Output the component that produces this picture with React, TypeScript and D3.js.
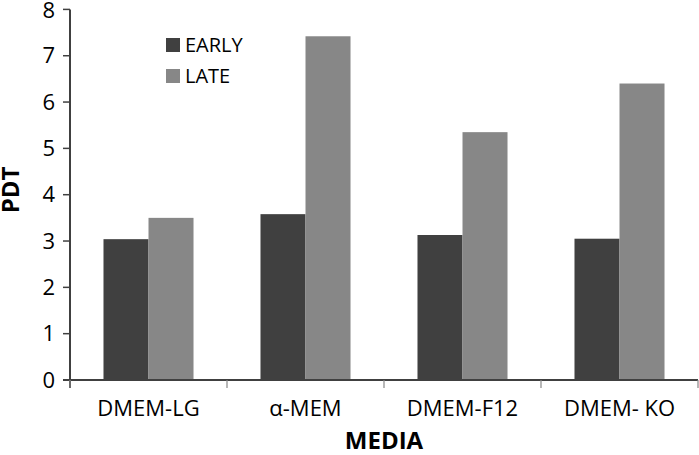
import React, { useEffect, useRef } from "react";
import * as d3 from "d3";

const categories = ["DMEM-LG", "α-MEM", "DMEM-F12", "DMEM- KO"];
const seriesNames = ["EARLY", "LATE"];
const earlyValues = [3.04, 3.58, 3.13, 3.05];
const lateValues = [3.5, 7.42, 5.35, 6.4];
const yTicks = [0, 1, 2, 3, 4, 5, 6, 7, 8];
const colors = ["#404040", "#878787"];

export default function App() {
  const ref = useRef<SVGSVGElement | null>(null);

  useEffect(() => {
    const svg = d3.select(ref.current);
    svg.selectAll("*").remove();
    const W = 699, H = 455;
    const left = 70, right = 698, top = 9.4, bottom = 380;
    const font = "'Open Sans', sans-serif";
    const axisColor = "#404040";

    const x = d3.scaleBand<string>().domain(categories).range([left, right]).paddingInner(0).paddingOuter(0);
    const x1 = d3.scaleBand<string>().domain(seriesNames).range([0, x.bandwidth()]).paddingOuter(0.744).paddingInner(0);
    const y = d3.scaleLinear().domain([0, 8]).range([bottom, top]);

    svg.append("rect").attr("width", W).attr("height", H).attr("fill", "#fff");

    const data = categories.map((c, i) => ({ c, vals: [earlyValues[i], lateValues[i]] }));
    const g = svg.append("g");
    data.forEach((d) => {
      d.vals.forEach((v, j) => {
        g.append("rect")
          .attr("x", (x(d.c) as number) + (x1(seriesNames[j]) as number))
          .attr("y", y(v))
          .attr("width", x1.bandwidth())
          .attr("height", y(0) - y(v))
          .attr("fill", colors[j]);
      });
    });

    // Y axis
    svg.append("line").attr("x1", left).attr("x2", left).attr("y1", top).attr("y2", bottom + 8)
      .attr("stroke", axisColor).attr("stroke-width", 2);
    yTicks.forEach((t) => {
      svg.append("line").attr("x1", left - 7).attr("x2", left).attr("y1", y(t)).attr("y2", y(t))
        .attr("stroke", axisColor).attr("stroke-width", 1.5);
      svg.append("text").attr("x", 55).attr("y", y(t) + (t === 8 ? 1 : 0)).attr("dy", "0.35em")
        .attr("text-anchor", "end").attr("font-family", font).attr("font-size", 22)
        .attr("fill", "#000").text(String(t));
    });

    // X axis
    svg.append("line").attr("x1", left - 7).attr("x2", right).attr("y1", bottom).attr("y2", bottom)
      .attr("stroke", axisColor).attr("stroke-width", 2);
    const edges = categories.map((c) => x(c) as number).concat([right]);
    edges.forEach((e) => {
      svg.append("line").attr("x1", e).attr("x2", e).attr("y1", bottom).attr("y2", bottom + 8)
        .attr("stroke", "#888").attr("stroke-width", 1.2);
    });
    categories.forEach((c) => {
      svg.append("text").attr("x", (x(c) as number) + x.bandwidth() / 2).attr("y", 416)
        .attr("text-anchor", "middle").attr("font-family", font).attr("font-size", 22)
        .attr("fill", "#000").text(c);
    });

    // Axis titles
    svg.append("text").attr("x", (left + right) / 2).attr("y", 449)
      .attr("text-anchor", "middle").attr("font-family", font).attr("font-size", 24)
      .attr("font-weight", "bold").attr("fill", "#000").text("MEDIA");
    svg.append("text").attr("transform", `translate(19,190) rotate(-90)`)
      .attr("text-anchor", "middle").attr("font-family", font).attr("font-size", 24)
      .attr("font-weight", "bold").attr("fill", "#000").text("PDT");

    // Legend
    seriesNames.forEach((s, i) => {
      const yy = 38 + i * 31;
      svg.append("rect").attr("x", 166).attr("y", yy).attr("width", 14).attr("height", 14).attr("fill", colors[i]);
      svg.append("text").attr("x", 185).attr("y", yy + 14).attr("font-family", font).attr("font-size", 20)
        .attr("fill", "#000").text(s);
    });
  }, []);

  return (
    <svg ref={ref} width={699} height={455} style={{ position: "absolute", left: 0, top: 0 }} />
  );
}
